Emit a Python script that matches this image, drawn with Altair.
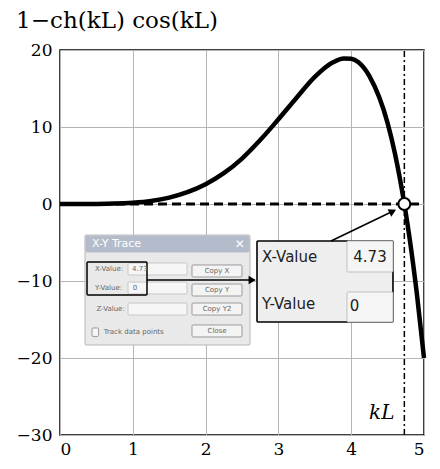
import altair as alt
import pandas as pd

# ---- curve ----
kl = [0, 0.25, 0.5, 0.75, 1.0, 1.25, 1.5, 1.75, 2.0, 2.25, 2.5, 2.75, 3.0, 3.25,
      3.5, 3.75, 3.9, 4.0, 4.1, 4.25, 4.5, 4.6, 4.73, 4.8, 4.9, 5.0]
fval = [0, 0.0, 0.01, 0.05, 0.17, 0.4, 0.83, 1.53, 2.57, 4.0, 5.9, 8.3, 11.0, 13.8,
        16.5, 18.4, 18.9, 18.85, 18.4, 16.6, 10.5, 6.6, 0, -4.3, -11.5, -20.0]
x_ticks = [0, 1, 2, 3, 4, 5]
y_ticks = [-30, -20, -10, 0, 10, 20]
root_x = 4.73
root_y = 0

X = alt.Scale(domain=[0, 5], nice=False, zero=False)
Y = alt.Scale(domain=[-30, 20], nice=False, zero=False)
AX = alt.Axis(values=x_ticks, title=None, grid=True, ticks=False, domain=False, labelPadding=6, format="d")
AY = alt.Axis(values=y_ticks, title=None, grid=True, ticks=False, domain=False, labelPadding=8, format="d")


def XE(f="x"):
    return alt.X(f"{f}:Q", scale=X, axis=AX)


def YE(f="y"):
    return alt.Y(f"{f}:Q", scale=Y, axis=AY)


curve = pd.DataFrame({"x": kl, "y": fval})

zero_line = alt.Chart(pd.DataFrame({"x": [0], "x2": [5], "y": [0]})).mark_rule(
    color="black", strokeWidth=3.2, strokeDash=[9, 5]).encode(x=XE(), x2="x2:Q", y=YE())

vline = alt.Chart(pd.DataFrame({"x": [root_x], "y": [-30], "y2": [20]})).mark_rule(
    color="black", strokeWidth=1.5, strokeDash=[6, 3, 2, 3]).encode(x=XE(), y=YE(), y2="y2:Q")

line = alt.Chart(curve).mark_line(color="black", strokeWidth=4.5, interpolate="monotone").encode(x=XE(), y=YE())

# ---- dialog window and callout (decorations) ----
rects = pd.DataFrame({
    "x":  [0.343, 0.357, 0.934, 0.934, 0.934, 1.813, 1.813, 1.813, 1.813, 0.371, 2.706, 3.942, 3.942, 0.44],
    "x2": [2.610, 2.596, 1.745, 1.745, 1.745, 2.500, 2.500, 2.500, 2.500, 1.195, 4.574, 4.574, 4.574, 0.53],
    "y":  [-4.03, -4.16, -7.66, -10.13, -12.86, -7.92, -10.39, -12.86, -15.71, -7.53, -4.81, -4.81, -11.43, -16.1],
    "y2": [-18.31, -6.23, -9.22, -11.69, -14.42, -9.48, -11.95, -14.42, -17.27, -11.82, -15.32, -8.83, -15.32, -17.2],
    "fill": ["#e9e9e9", "#b4bccb", "#f6f6f6", "#f6f6f6", "#f6f6f6", "#f4f4f4", "#f4f4f4", "#f4f4f4", "#f4f4f4",
             "transparent", "#eeeeee", "#f5f5f5", "#f5f5f5", "#f6f6f6"],
    "stroke": ["#b8b8b8", "#b4bccb", "#c8c8c8", "#c8c8c8", "#c8c8c8", "#9a9a9a", "#9a9a9a", "#9a9a9a", "#9a9a9a",
               "black", "black", "#c0c0c0", "#c0c0c0", "#999999"],
    "sw": [1, 1, 1, 1, 1, 1, 1, 1, 1, 1.5, 1.6, 1, 1, 1],
})
rect_layer = alt.Chart(rects).mark_rect(cornerRadius=1).encode(
    x=XE(), x2="x2:Q", y=YE(), y2="y2:Q",
    fill=alt.Fill("fill:N", scale=None), stroke=alt.Stroke("stroke:N", scale=None),
    strokeWidth=alt.StrokeWidth("sw:Q", scale=None))

small_text = pd.DataFrame({
    "x": [0.44, 0.48, 0.99, 0.48, 1.0, 0.50, 0.60, 2.157, 2.157, 2.157, 2.157],
    "y": [-5.19, -8.44, -8.44, -10.91, -10.91, -13.64, -16.62, -8.7, -11.17, -13.64, -16.49],
    "t": ["X-Y Trace", "X-Value:", "4.73", "Y-Value:", "0", "Z-Value:", "Track data points",
          "Copy X", "Copy Y", "Copy Y2", "Close"],
    "size": [11, 7, 7, 7, 7, 7, 7, 7, 7, 7, 7],
    "color": ["white", "#666666", "#666666", "#666666", "#666666", "#666666", "#666666",
              "#666666", "#666666", "#666666", "#666666"],
    "align": ["left", "left", "left", "left", "left", "left", "left", "center", "center", "center", "center"],
})
st_left = alt.Chart(small_text[small_text["align"] == "left"]).mark_text(
    align="left", baseline="middle", font="DejaVu Sans").encode(
    x=XE(), y=YE(), text="t:N",
    size=alt.Size("size:Q", scale=None), color=alt.Color("color:N", scale=None))
st_center = alt.Chart(small_text[small_text["align"] == "center"]).mark_text(
    align="center", baseline="middle", font="DejaVu Sans").encode(
    x=XE(), y=YE(), text="t:N",
    size=alt.Size("size:Q", scale=None), color=alt.Color("color:N", scale=None))

close_x = alt.Chart(pd.DataFrame({"x": [2.47], "y": [-5.19], "t": ["✕"]})).mark_text(
    align="center", baseline="middle", font="DejaVu Sans", fontSize=12, fontWeight="bold",
    color="white").encode(x=XE(), y=YE(), text="t:N")

callout_text = pd.DataFrame({
    "x": [2.775, 4.258, 2.775, 3.98],
    "y": [-6.88, -6.88, -12.99, -13.2],
    "t": ["X-Value", "4.73", "Y-Value", "0"],
    "align": ["left", "center", "left", "left"],
})
ct_left = alt.Chart(callout_text[callout_text["align"] == "left"]).mark_text(
    align="left", baseline="middle", font="DejaVu Sans", fontSize=15, color="#222222").encode(
    x=XE(), y=YE(), text="t:N")
ct_center = alt.Chart(callout_text[callout_text["align"] == "center"]).mark_text(
    align="center", baseline="middle", font="DejaVu Sans", fontSize=15, color="#222222").encode(
    x=XE(), y=YE(), text="t:N")

arrow1 = alt.Chart(pd.DataFrame({"x": [1.195], "x2": [2.66], "y": [-9.87], "y2": [-9.87]})).mark_rule(
    color="black", strokeWidth=1.6).encode(x=XE(), x2="x2:Q", y=YE(), y2="y2:Q")
arrow2 = alt.Chart(pd.DataFrame({"x": [3.723], "x2": [4.60], "y": [-4.81], "y2": [-0.8]})).mark_rule(
    color="black", strokeWidth=1.6).encode(x=XE(), x2="x2:Q", y=YE(), y2="y2:Q")
head1 = alt.Chart(pd.DataFrame({"x": [2.64], "y": [-9.87]})).mark_point(
    shape="triangle-right", filled=True, color="black", size=70, opacity=1).encode(x=XE(), y=YE())
head2 = alt.Chart(pd.DataFrame({"x": [4.57], "y": [-0.95]})).mark_point(
    shape="triangle-right", filled=True, color="black", size=70, opacity=1, angle=334).encode(x=XE(), y=YE())

root = alt.Chart(pd.DataFrame({"x": [root_x], "y": [root_y]})).mark_point(
    shape="circle", filled=True, fill="white", stroke="black", strokeWidth=2, size=140, opacity=1).encode(
    x=XE(), y=YE())

kl_label = alt.Chart(pd.DataFrame({"x": [4.42], "y": [-27.1], "t": ["kL"]})).mark_text(
    align="center", baseline="middle", font="DejaVu Serif", fontSize=20, fontStyle="italic",
    color="black").encode(x=XE(), y=YE(), text="t:N")

chart = alt.layer(
    vline, zero_line, line, rect_layer, st_left, st_center, close_x,
    ct_left, ct_center, arrow1, arrow2, head1, head2, root, kl_label
).properties(
    width=364, height=385,
    autosize=alt.AutoSizeParams(type="none"),
    padding={"left": 52, "top": 42, "right": 8, "bottom": 26},
    title=alt.TitleParams("1−ch(kL) cos(kL)", anchor="start", dx=0, font="DejaVu Serif",
                          fontSize=23, fontWeight="normal", offset=8, color="black"),
).configure_view(
    stroke="black", strokeWidth=1.5
).configure_axis(
    labelFont="DejaVu Serif", labelFontSize=17, labelColor="black",
    gridColor="#b5b5b5", gridWidth=1
)

chart.save("out.html", embed_options={"renderer": "svg", "actions": False})
